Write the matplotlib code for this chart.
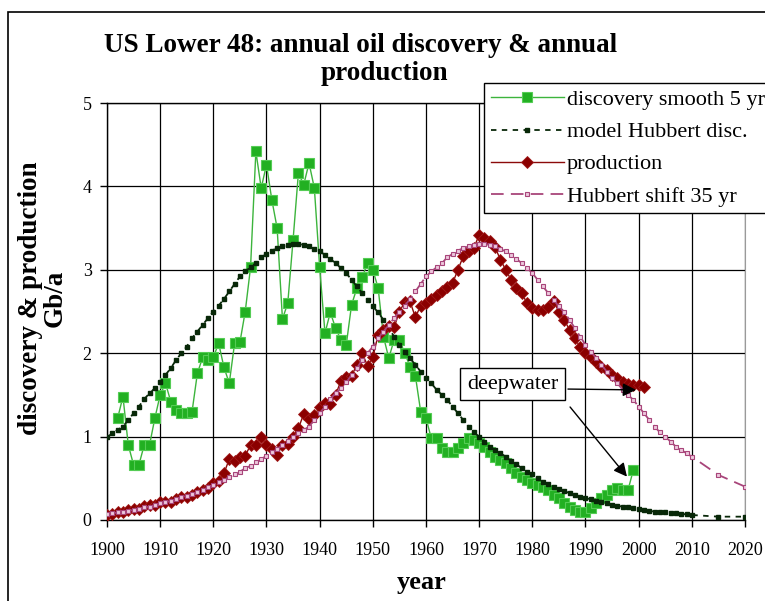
import matplotlib
matplotlib.use("Agg")
import matplotlib.pyplot as plt
from matplotlib.patches import Rectangle

plt.rcParams['font.family'] = ['Liberation Serif', 'DejaVu Serif']

# ---------------- data ----------------
disc_years = list(range(1902, 2000))
disc_values = [1.22, 1.48, 0.90, 0.66, 0.66, 0.90, 0.90, 1.22, 1.50, 1.64,
               1.42, 1.32, 1.28, 1.28, 1.30, 1.76, 1.95, 1.92, 1.95, 2.12,
               1.83, 1.64, 2.12, 2.13, 2.50, 3.03, 4.42, 3.98, 4.26, 3.84,
               3.50, 2.41, 2.60, 3.36, 4.16, 4.02, 4.28, 3.98, 3.03, 2.24,
               2.49, 2.30, 2.16, 2.10, 2.58, 2.78, 2.91, 3.08, 3.00, 2.78,
               2.20, 1.94, 2.16, 2.16, 2.00, 1.84, 1.73, 1.30, 1.22, 0.98,
               0.98, 0.86, 0.82, 0.82, 0.86, 0.92, 0.98, 0.96, 0.92, 0.88,
               0.82, 0.76, 0.72, 0.68, 0.62, 0.56, 0.52, 0.48, 0.44, 0.42,
               0.40, 0.36, 0.30, 0.26, 0.20, 0.16, 0.12, 0.10, 0.10, 0.14,
               0.20, 0.26, 0.30, 0.36, 0.38, 0.36, 0.36, 0.60]

model_years = list(range(1900, 2011)) + [2015, 2020]
model_values = [0.99, 1.04, 1.08, 1.12, 1.20, 1.28, 1.36, 1.45, 1.52, 1.58,
                1.65, 1.74, 1.82, 1.92, 2.00, 2.08, 2.18, 2.26, 2.34, 2.42,
                2.50, 2.57, 2.65, 2.74, 2.83, 2.92, 2.98, 3.03, 3.08, 3.15,
                3.19, 3.23, 3.26, 3.28, 3.30, 3.31, 3.31, 3.30, 3.28, 3.25,
                3.22, 3.18, 3.13, 3.08, 3.02, 2.96, 2.88, 2.80, 2.72, 2.64,
                2.56, 2.49, 2.40, 2.30, 2.20, 2.10, 2.02, 1.94, 1.86, 1.78,
                1.70, 1.64, 1.56, 1.50, 1.44, 1.36, 1.28, 1.20, 1.12, 1.05,
                1.00, 0.94, 0.88, 0.84, 0.80, 0.76, 0.71, 0.67, 0.62, 0.58,
                0.55, 0.50, 0.46, 0.43, 0.40, 0.37, 0.35, 0.32, 0.30, 0.28,
                0.26, 0.25, 0.23, 0.21, 0.20, 0.18, 0.17, 0.16, 0.15, 0.14,
                0.13, 0.12, 0.11, 0.10, 0.10, 0.09, 0.08, 0.08, 0.07, 0.07,
                0.06, 0.04, 0.04]

prod_years = list(range(1900, 2002))
prod_values = [0.06, 0.07, 0.09, 0.10, 0.12, 0.13, 0.13, 0.17, 0.18, 0.18,
               0.21, 0.22, 0.22, 0.25, 0.27, 0.28, 0.30, 0.33, 0.36, 0.38,
               0.44, 0.47, 0.56, 0.73, 0.71, 0.76, 0.77, 0.90, 0.90, 1.00,
               0.90, 0.85, 0.78, 0.90, 0.91, 1.00, 1.10, 1.27, 1.21, 1.26,
               1.35, 1.40, 1.39, 1.50, 1.67, 1.71, 1.73, 1.86, 2.00, 1.85,
               1.95, 2.22, 2.28, 2.33, 2.31, 2.50, 2.61, 2.62, 2.43, 2.57,
               2.60, 2.65, 2.70, 2.75, 2.79, 2.84, 3.00, 3.16, 3.22, 3.26,
               3.42, 3.38, 3.35, 3.27, 3.12, 3.00, 2.88, 2.78, 2.72, 2.60,
               2.54, 2.52, 2.52, 2.55, 2.62, 2.50, 2.40, 2.28, 2.18, 2.07,
               2.00, 1.95, 1.89, 1.84, 1.80, 1.74, 1.70, 1.66, 1.63, 1.62,
               1.62, 1.60]

shift_years = list(range(1900, 2011)) + [2015, 2020]
shift_values = [0.07, 0.08, 0.09, 0.10, 0.11, 0.12, 0.13, 0.15, 0.16, 0.18,
                0.20, 0.21, 0.23, 0.25, 0.27, 0.29, 0.31, 0.33, 0.36, 0.39,
                0.42, 0.45, 0.48, 0.51, 0.55, 0.58, 0.62, 0.65, 0.69, 0.73,
                0.77, 0.81, 0.85, 0.90, 0.95,
                0.99, 1.04, 1.08, 1.12, 1.20, 1.28, 1.36, 1.45, 1.52, 1.58,
                1.65, 1.74, 1.82, 1.92, 2.00, 2.08, 2.18, 2.26, 2.34, 2.42,
                2.50, 2.57, 2.65, 2.74, 2.83, 2.92, 2.98, 3.03, 3.08, 3.15,
                3.19, 3.23, 3.26, 3.28, 3.30, 3.31, 3.31, 3.30, 3.28, 3.25,
                3.22, 3.18, 3.13, 3.08, 3.02, 2.96, 2.88, 2.80, 2.72, 2.64,
                2.56, 2.49, 2.40, 2.30, 2.20, 2.10, 2.02, 1.94, 1.86, 1.78,
                1.70, 1.64, 1.56, 1.50, 1.44, 1.36, 1.28, 1.20, 1.12, 1.05,
                1.00, 0.94, 0.88, 0.84, 0.80, 0.76,
                0.54, 0.40]

x_ticks = list(range(1900, 2021, 10))
y_ticks = [0, 1, 2, 3, 4, 5]

series_labels = ['discovery smooth 5 yr', 'model Hubbert disc.',
                 'production', 'Hubbert shift 35 yr']
title_line1 = 'US Lower 48: annual oil discovery & annual'
title_line2 = 'production'
note_text = 'deepwater'

# ---------------- figure ----------------
W, H = 765, 601
fig = plt.figure(figsize=(W / 100, H / 100), dpi=100)
fig.patch.set_facecolor('white')

def fx(px):
    return px / W

def fy(py):
    return 1 - py / H

ax = fig.add_axes([fx(107), fy(520), fx(745) - fx(107), fy(103) - fy(520)])
ax.set_xlim(1900, 2020)
ax.set_ylim(0, 5)
ax.set_xticks(x_ticks)
ax.set_yticks(y_ticks)
ax.grid(True, color='black', lw=0.9)
ax.set_axisbelow(True)
for s in ['left', 'bottom', 'top']:
    ax.spines[s].set_color('black')
    ax.spines[s].set_linewidth(1.0)
ax.spines['right'].set_color('#9a9a9a')
ax.tick_params(axis='both', direction='out', length=5, width=1, labelsize=13)
ax.tick_params(axis='x', pad=11)
ax.tick_params(axis='y', pad=6)

l1, = ax.plot(disc_years, disc_values, color='#3cb43c', lw=1.0, marker='s',
              ms=7.5, mfc='#22b022', mec='#55cc55', mew=0.8, zorder=3,
              label=series_labels[0])
l2, = ax.plot(model_years, model_values, color='#082808', lw=1.3,
              ls=(0, (3, 3)), marker='s', ms=3.2, mfc='#082808',
              mec='#082808', zorder=4, label=series_labels[1])
l3, = ax.plot(prod_years, prod_values, color='#8b0a0a', lw=1.0, marker='D',
              ms=6.3, mfc='#8b0000', mec='#a01a1a', mew=0.6, zorder=5,
              label=series_labels[2])
l4, = ax.plot(shift_years, shift_values, color='#a8457a', lw=1.3,
              ls=(0, (7, 4)), marker='s', ms=3.4, mfc='#ecc8dc',
              mec='#a8457a', mew=0.8, zorder=6, label=series_labels[3])

leg = ax.legend(handles=[l1, l2, l3, l4], loc='upper left',
                bbox_to_anchor=(fx(484), fy(83)), bbox_transform=fig.transFigure,
                fontsize=16, frameon=True, fancybox=False, edgecolor='black',
                framealpha=1, borderpad=0.3, labelspacing=0.52,
                handlelength=3.3, handletextpad=0.12, borderaxespad=0,
                numpoints=1)
leg.get_frame().set_linewidth(1.0)
leg.set_zorder(10)

# annotation box and arrows
ax.text(1976.3, 1.63, note_text, fontsize=16, ha='center', va='center',
        zorder=8, bbox=dict(boxstyle='square,pad=0.3', fc='white',
                            ec='black', lw=1.0))
ax.annotate('', xy=(1999.5, 1.56), xytext=(1986.7, 1.57), zorder=9,
            arrowprops=dict(arrowstyle='-|>', color='black', lw=1.0,
                            mutation_scale=20, shrinkA=0, shrinkB=0))
ax.annotate('', xy=(1997.8, 0.52), xytext=(1987.1, 1.355), zorder=9,
            arrowprops=dict(arrowstyle='-|>', color='black', lw=1.0,
                            mutation_scale=20, shrinkA=0, shrinkB=0))

# titles and axis labels
fig.text(fx(361), fy(45), title_line1, ha='center', va='center',
         fontsize=19.5, fontweight='bold')
fig.text(fx(384), fy(74), title_line2, ha='center', va='center',
         fontsize=19.5, fontweight='bold')
fig.text(fx(43), fy(298), 'discovery & production\nGb/a', rotation=90,
         ha='center', va='center', fontsize=19.5, fontweight='bold',
         linespacing=0.95)
fig.text(fx(422), fy(583), 'year', ha='center', va='center',
         fontsize=19, fontweight='bold')

# chart area border
fig.add_artist(Rectangle((fx(8), -0.1), 2, fy(12) + 0.1,
                         transform=fig.transFigure, fill=False,
                         ec='black', lw=1.2))

fig.savefig('out.png', dpi=100, facecolor='white')
